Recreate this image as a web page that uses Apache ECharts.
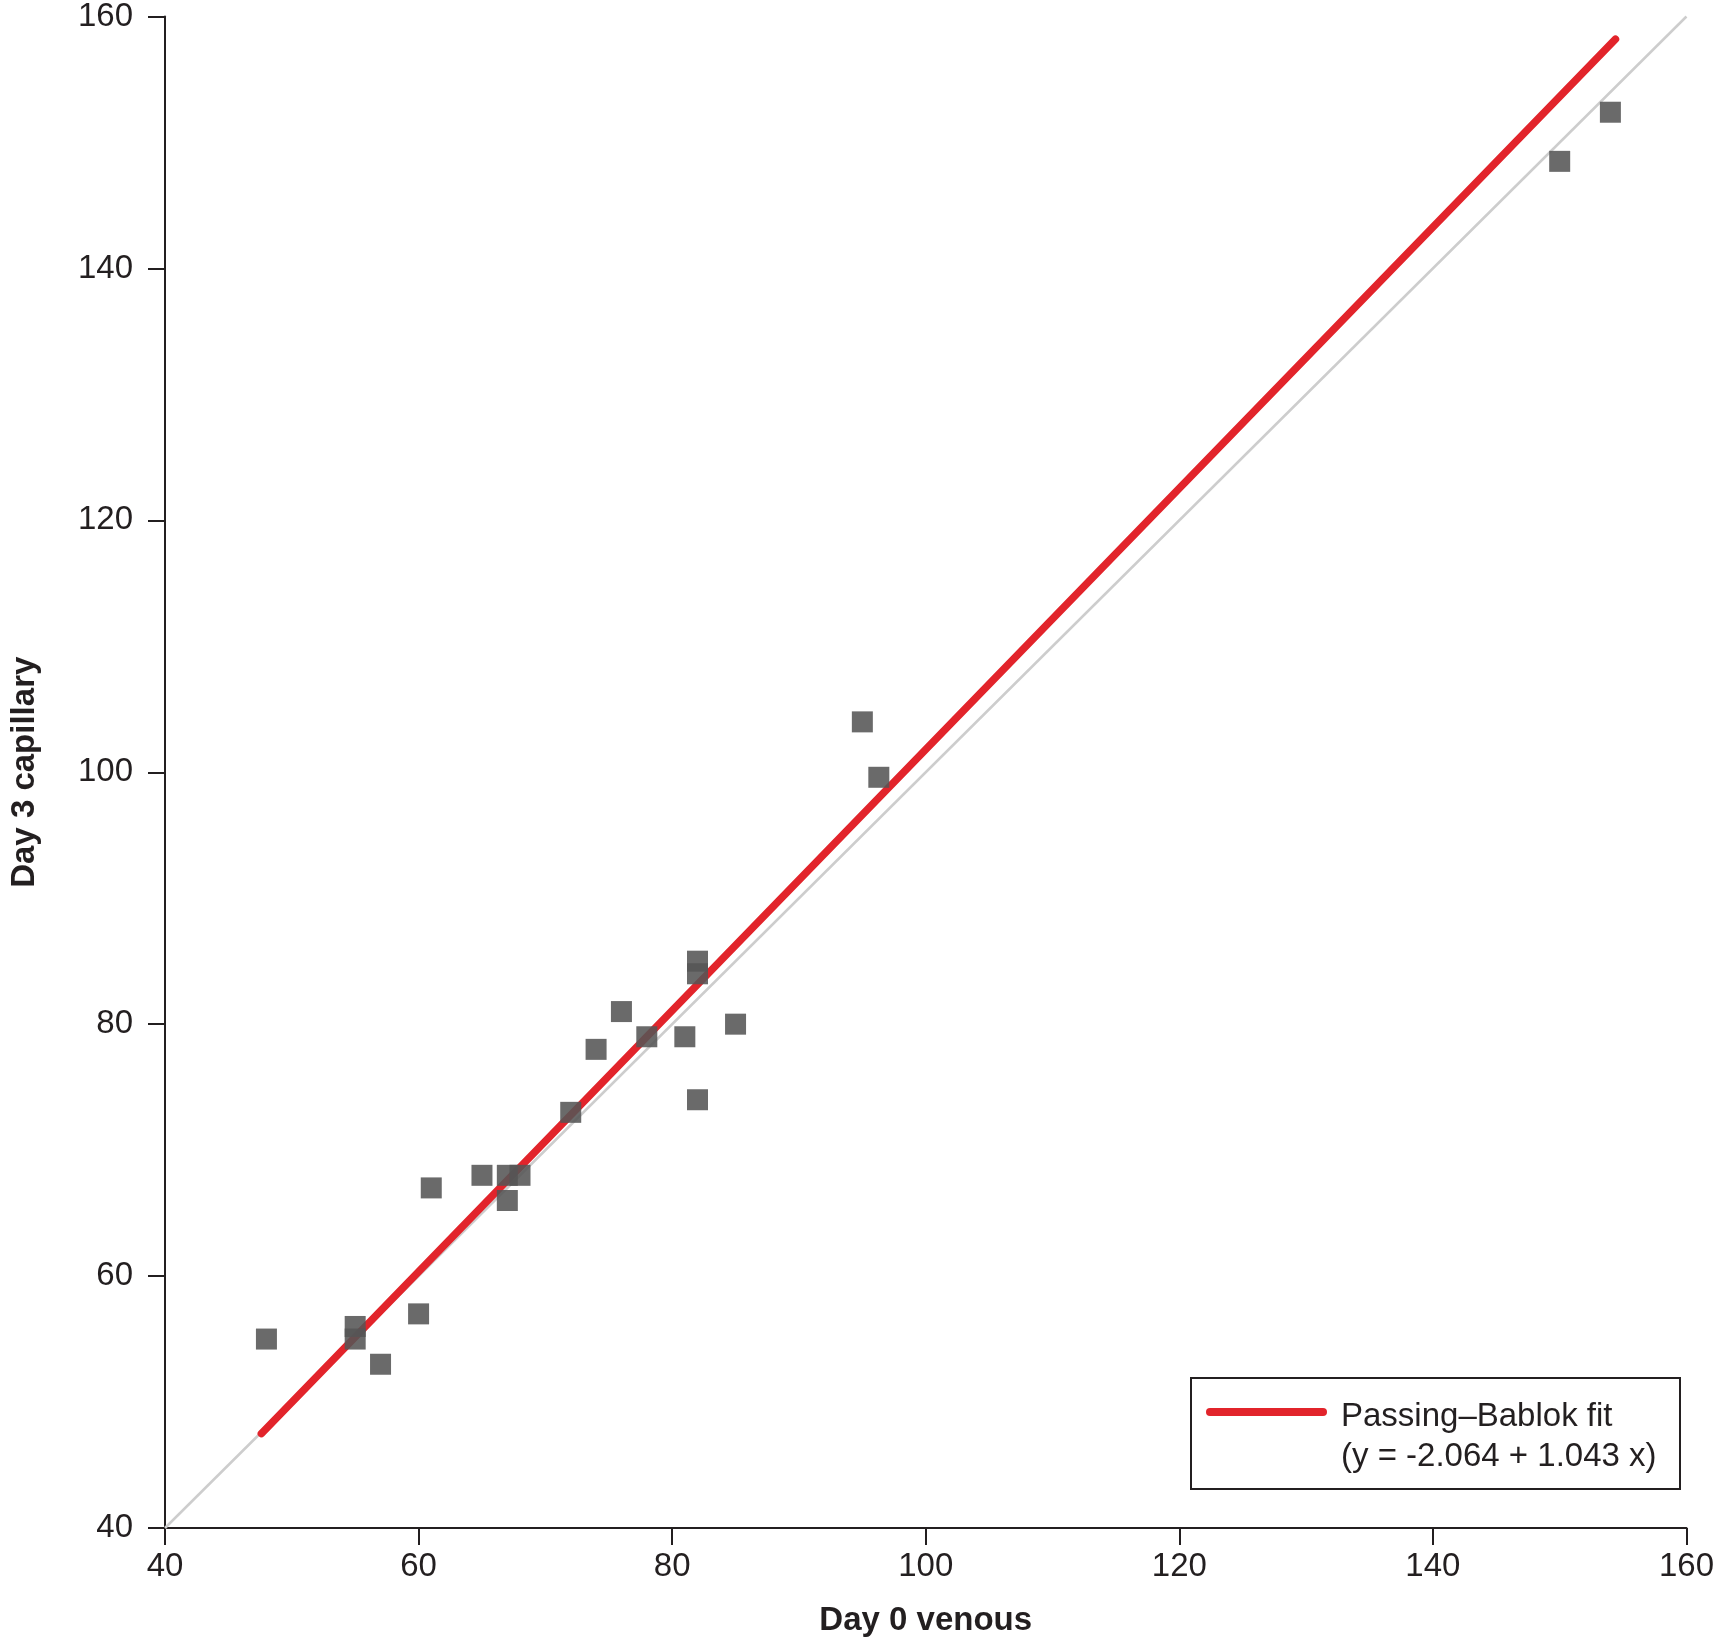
<!DOCTYPE html>
<html>
<head>
<meta charset="utf-8">
<script src="https://cdn.jsdelivr.net/npm/echarts@6/dist/echarts.min.js"></script>
<style>
html,body{margin:0;padding:0;background:#fff;}
#chart{width:1717px;height:1642px;}
</style>
</head>
<body>
<div id="chart"></div>
<script>
// ---- data ----
const venousDay0 = [48, 55, 55, 57, 60, 61, 65, 67, 68, 67, 72, 74, 76, 78, 81, 82, 82, 82, 85, 95, 96.3, 150, 154];
const capillaryDay3 = [55, 56, 55, 53, 57, 67, 68, 68, 68, 66, 73, 78, 81, 79, 79, 85, 84, 74, 80, 104, 99.6, 148.5, 152.4];
const fitX = [47.6, 154.4];
const fitY = [47.5, 158.2];
const identityX = [40, 160];
const identityY = [40, 160];
const axisTicks = [40, 60, 80, 100, 120, 140, 160];
const xTitle = 'Day 0 venous';
const yTitle = 'Day 3 capillary';
const legendLine1 = 'Passing\u2013Bablok fit';
const legendLine2 = '(y = -2.064 + 1.043 x)';

const FONT = '"Liberation Sans", Arial, Helvetica, sans-serif';
const INK = '#231f20';

const pts = venousDay0.map((x, i) => [x, capillaryDay3[i]]);
const fitData = fitX.map((x, i) => [x, fitY[i]]);
const idData = identityX.map((x, i) => [x, identityY[i]]);

const chart = echarts.init(document.getElementById('chart'), null, {renderer: 'canvas'});

function axisCommon(name, nameGap, isY) {
  return {
    type: 'value',
    min: axisTicks[0],
    max: axisTicks[axisTicks.length - 1],
    interval: axisTicks[1] - axisTicks[0],
    name: name,
    nameLocation: 'middle',
    nameGap: nameGap,
    nameTextStyle: {fontFamily: FONT, fontSize: 33, fontWeight: 'bold', color: INK},
    axisLine: {show: true, onZero: false, lineStyle: {color: INK, width: 2}},
    axisTick: {show: true, inside: false, length: 17, lineStyle: {color: INK, width: 2}},
    axisLabel: {show: true, fontFamily: FONT, fontSize: 33, color: INK, margin: isY ? 32 : 22},
    splitLine: {show: false}
  };
}

const option = {
  animation: false,
  backgroundColor: '#ffffff',
  grid: {left: 156, right: 27.5, top: 8, bottom: 111, containLabel: false},
  xAxis: axisCommon(xTitle, 76, false),
  yAxis: axisCommon(yTitle, 124, true),
  series: [
    {
      type: 'line', data: idData, symbol: 'none', silent: true, z: 1,
      lineStyle: {color: '#cdcdcd', width: 2.5}
    },
    {
      type: 'line', data: fitData, symbol: 'none', silent: true, z: 2,
      lineStyle: {color: '#e2242b', width: 7.5, cap: 'round'}
    },
    {
      type: 'scatter', data: pts, symbol: 'rect', symbolSize: 21, z: 3,
      itemStyle: {color: '#555555', opacity: 0.88}
    }
  ],
  graphic: [
    {
      type: 'rect', shape: {x: 1191, y: 1378, width: 489, height: 111},
      style: {fill: '#ffffff', stroke: INK, lineWidth: 2}, z: 10
    },
    {
      type: 'line', shape: {x1: 1210, y1: 1412, x2: 1323, y2: 1412},
      style: {stroke: '#e2242b', lineWidth: 8, lineCap: 'round'}, z: 11
    },
    {
      type: 'text', x: 1341, y: 1417, z: 11,
      style: {text: legendLine1, font: '33px ' + FONT, fill: INK, verticalAlign: 'middle', align: 'left'}
    },
    {
      type: 'text', x: 1341, y: 1457, z: 11,
      style: {text: legendLine2, font: '33px ' + FONT, fill: INK, verticalAlign: 'middle', align: 'left'}
    }
  ]
};
chart.setOption(option);
</script>
</body>
</html>
